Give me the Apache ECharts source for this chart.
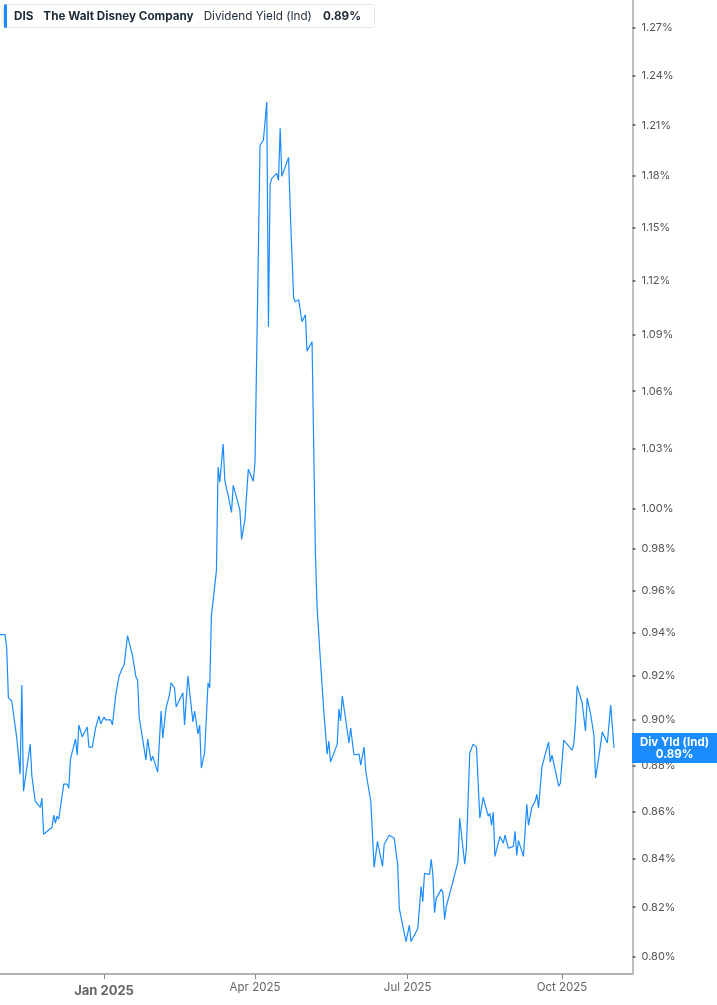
<!DOCTYPE html>
<html>
<head>
<meta charset="utf-8">
<script src="https://cdn.jsdelivr.net/npm/echarts@6.0.0/dist/echarts.min.js"></script>
<style>
html,body{margin:0;padding:0;background:#fff;}
#chart{width:717px;height:1005px;}
</style>
</head>
<body>
<div id="chart"></div>
<script>
const dates = [
'2024-10-31','2024-11-03','2024-11-04','2024-11-05','2024-11-07','2024-11-10','2024-11-11','2024-11-12','2024-11-13','2024-11-14',
'2024-11-18','2024-11-19','2024-11-21','2024-11-24','2024-11-25','2024-11-26','2024-12-01','2024-12-02','2024-12-03','2024-12-04',
'2024-12-05','2024-12-08','2024-12-10','2024-12-11','2024-12-12','2024-12-15','2024-12-16','2024-12-17','2024-12-18','2024-12-19',
'2024-12-22','2024-12-23','2024-12-25','2024-12-27','2024-12-29','2024-12-30','2025-01-01','2025-01-02','2025-01-05','2025-01-06',
'2025-01-08','2025-01-10','2025-01-12','2025-01-13','2025-01-14','2025-01-15','2025-01-18','2025-01-20','2025-01-21','2025-01-22',
'2025-01-24','2025-01-26','2025-01-27','2025-01-29','2025-01-30','2025-02-02','2025-02-04','2025-02-05','2025-02-07','2025-02-09',
'2025-02-10','2025-02-12','2025-02-13','2025-02-17','2025-02-18','2025-02-20','2025-02-23','2025-02-24','2025-02-26','2025-02-27',
'2025-02-28','2025-03-02','2025-03-04','2025-03-05','2025-03-06','2025-03-07','2025-03-09','2025-03-10','2025-03-11','2025-03-13',
'2025-03-14','2025-03-15','2025-03-16','2025-03-17','2025-03-18','2025-03-19','2025-03-21','2025-03-23','2025-03-24','2025-03-26',
'2025-03-28','2025-03-31','2025-04-01','2025-04-02','2025-04-04','2025-04-06','2025-04-08','2025-04-09','2025-04-10','2025-04-11',
'2025-04-14','2025-04-15','2025-04-16','2025-04-17','2025-04-21','2025-04-22','2025-04-24','2025-04-25','2025-04-27','2025-04-29',
'2025-05-01','2025-05-02','2025-05-05','2025-05-06','2025-05-07','2025-05-08','2025-05-10','2025-05-12','2025-05-14','2025-05-15',
'2025-05-16','2025-05-20','2025-05-21','2025-05-22','2025-05-23','2025-05-25','2025-05-27','2025-05-28','2025-05-30','2025-06-02',
'2025-06-03','2025-06-04','2025-06-05','2025-06-06','2025-06-09','2025-06-11','2025-06-13','2025-06-16','2025-06-17','2025-06-20',
'2025-06-23','2025-06-25','2025-06-26','2025-06-30','2025-07-02','2025-07-03','2025-07-07','2025-07-09','2025-07-10','2025-07-11',
'2025-07-14','2025-07-15','2025-07-16','2025-07-17','2025-07-18','2025-07-21','2025-07-22','2025-07-23','2025-07-24','2025-07-28',
'2025-07-31','2025-08-01','2025-08-04','2025-08-05','2025-08-07','2025-08-09','2025-08-11','2025-08-13','2025-08-15','2025-08-18',
'2025-08-19','2025-08-20','2025-08-21','2025-08-22','2025-08-25','2025-08-27','2025-08-28','2025-08-30','2025-09-02','2025-09-03',
'2025-09-04','2025-09-05','2025-09-08','2025-09-10','2025-09-11','2025-09-13','2025-09-15','2025-09-16','2025-09-17','2025-09-19',
'2025-09-21','2025-09-23','2025-09-24','2025-09-25','2025-09-29','2025-09-30','2025-10-02','2025-10-04','2025-10-07','2025-10-08',
'2025-10-09','2025-10-10','2025-10-13','2025-10-15','2025-10-16','2025-10-18','2025-10-20','2025-10-21','2025-10-23','2025-10-24',
'2025-10-25','2025-10-28','2025-10-30','2025-11-01'
];
const yieldValues = [
0.9391,0.9391,0.9330,0.9100,0.9086,0.8920,0.8916,0.8761,0.9159,0.8687,
0.8893,0.8753,0.8644,0.8618,0.8657,0.8503,0.8533,0.8584,0.8550,0.8580,
0.8567,0.8718,0.8718,0.8700,0.8827,0.8916,0.8845,0.8978,0.8974,0.8925,
0.8969,0.8880,0.8880,0.8965,0.9019,0.8983,0.9014,0.9001,0.9001,0.8978,
0.9114,0.9200,0.9237,0.9251,0.9247,0.9386,0.9293,0.9196,0.9182,0.9010,
0.8916,0.8823,0.8916,0.8818,0.8840,0.8770,0.9041,0.8920,0.9055,0.9114,
0.9168,0.9146,0.9059,0.9123,0.8978,0.9200,0.8992,0.9041,0.8938,0.8978,
0.8788,0.8858,0.9168,0.9146,0.9480,0.9485,0.9695,1.0207,1.0131,1.0325,
1.0141,1.0100,1.0065,1.0060,0.9980,1.0115,1.0055,0.9990,0.9847,0.9945,
1.0197,1.0136,1.0235,1.0227,1.1980,1.2010,1.2240,1.0945,1.1749,1.1784,
1.1814,1.1772,1.2082,1.1796,1.1908,1.1597,1.1105,1.1083,1.1094,1.0973,
1.1011,1.0815,1.0864,1.0858,0.9778,0.9518,0.9270,0.9041,0.8849,0.8907,
0.8814,0.8893,0.9050,0.8996,0.9109,0.9005,0.8898,0.8965,0.8845,0.8849,
0.8801,0.8805,0.8880,0.8774,0.8644,0.8364,0.8473,0.8368,0.8461,0.8499,
0.8486,0.8377,0.8195,0.8061,0.8126,0.8061,0.8113,0.8285,0.8223,0.8339,
0.8335,0.8398,0.8335,0.8178,0.8236,0.8273,0.8260,0.8150,0.8203,0.8306,
0.8389,0.8571,0.8377,0.8444,0.8854,0.8893,0.8880,0.8571,0.8661,0.8580,
0.8592,0.8541,0.8597,0.8410,0.8494,0.8465,0.8499,0.8444,0.8452,0.8516,
0.8414,0.8477,0.8410,0.8631,0.8541,0.8618,0.8644,0.8674,0.8614,0.8792,
0.8849,0.8902,0.8814,0.8845,0.8709,0.8722,0.8911,0.8893,0.8867,0.8893,
0.8987,0.9155,0.9077,0.8951,0.9100,0.9028,0.8933,0.8744,0.8840,0.8845,
0.8947,0.8898,0.9068,0.8876
];
const yTicks = [0.80,0.82,0.84,0.86,0.88,0.90,0.92,0.94,0.96,0.98,1.00,1.03,1.06,1.09,1.12,1.15,1.18,1.21,1.24,1.27];
const xTickDates = ['2025-01-01','2025-04-01','2025-07-01','2025-10-01'];
const xTickLabels = ['Jan 2025','Apr 2025','Jul 2025','Oct 2025'];
const xTickIsYear = [true,false,false,false];

const toTime = s => { const p = s.split('-').map(Number); return Date.UTC(p[0], p[1]-1, p[2]); };
const xTickTimes = xTickDates.map(toTime);
const seriesData = dates.map((d,i) => [toTime(d), yieldValues[i]]);
const lastVal = yieldValues[yieldValues.length-1].toFixed(2) + '%';
const FONT = 'Inter, "Noto Sans", sans-serif';
const BLUE = '#1a8cff';

const chart = echarts.init(document.getElementById('chart'), null, {renderer:'canvas'});
chart.setOption({
  animation: false,
  backgroundColor: '#fff',
  textStyle: {fontFamily: FONT},
  title: {
    left: 3, top: 3,
    padding: [0, 14, 0, 1],
    backgroundColor: '#fff',
    borderColor: '#e4e4e4', borderWidth: 1, borderRadius: 3,
    text: '{bar|}{t|DIS}{t2|The Walt Disney Company}{n|Dividend Yield (Ind)}{t3|' + lastVal + '}',
    textStyle: {
      rich: {
        bar: {width: 3, height: 24, backgroundColor: BLUE, borderRadius: 2},
        t: {fontFamily: FONT, fontSize: 11.7, fontWeight: 'bold', color: '#1f2a37', padding: [0,0,0,7], lineHeight: 26},
        t2: {fontFamily: FONT, fontSize: 11.7, fontWeight: 'bold', color: '#1f2a37', padding: [0,0,0,10], lineHeight: 26},
        n: {fontFamily: FONT, fontSize: 11.7, fontWeight: 'normal', color: '#1f2a37', padding: [0,0,0,10], lineHeight: 26},
        t3: {fontFamily: FONT, fontSize: 11.7, fontWeight: 'bold', color: '#1f2a37', padding: [0,0,0,11], lineHeight: 26}
      }
    }
  },
  grid: {left: 0, right: 84.5, top: 0, bottom: 31, containLabel: false},
  xAxis: {
    type: 'value',
    min: toTime('2024-10-31'),
    max: toTime('2025-11-12'),
    axisLine: {show: true, lineStyle: {color: '#b4b4b4', width: 2}},
    axisTick: {show: true, customValues: xTickTimes, length: 5, lineStyle: {color: '#888', width: 1}},
    splitLine: {show: false},
    axisLabel: {
      customValues: xTickTimes,
      margin: 8,
      formatter: function (v) {
        const i = xTickTimes.indexOf(v);
        if (i < 0) return '';
        return xTickIsYear[i] ? '{y|' + xTickLabels[i] + '}' : '{m|' + xTickLabels[i] + '}';
      },
      rich: {
        y: {fontFamily: FONT, fontSize: 13, fontWeight: 'bold', color: '#666', padding: [3,0,0,0]},
        m: {fontFamily: FONT, fontSize: 11.5, color: '#666'}
      }
    }
  },
  yAxis: {
    type: 'log',
    logBase: 10,
    position: 'right',
    min: 0.7932,
    max: 1.2878,
    axisLine: {show: true, lineStyle: {color: '#a8a8a8', width: 1.5}},
    axisTick: {show: true, customValues: yTicks, length: 3, lineStyle: {color: '#555', width: 1.5}},
    splitLine: {show: false},
    minorTick: {show: false},
    axisLabel: {
      customValues: yTicks,
      margin: 9,
      fontFamily: FONT,
      fontSize: 11,
      color: '#555',
      formatter: v => Number(v).toFixed(2) + '%'
    }
  },
  series: [{
    type: 'line',
    data: seriesData,
    showSymbol: false,
    symbol: 'none',
    clip: false,
    lineStyle: {color: BLUE, width: 1.2},
    itemStyle: {color: BLUE},
    endLabel: {
      show: true,
      distance: 18,
      formatter: () => '{a|Div Yld (Ind)}\n{a|' + lastVal + '}',
      backgroundColor: BLUE,
      padding: [3, 4, 2, 4],
      rich: {
        a: {fontFamily: FONT, fontSize: 11.5, fontWeight: 'bold', color: '#fff', width: 77, align: 'center', lineHeight: 12.5}
      }
    }
  }]
});
</script>
</body>
</html>
